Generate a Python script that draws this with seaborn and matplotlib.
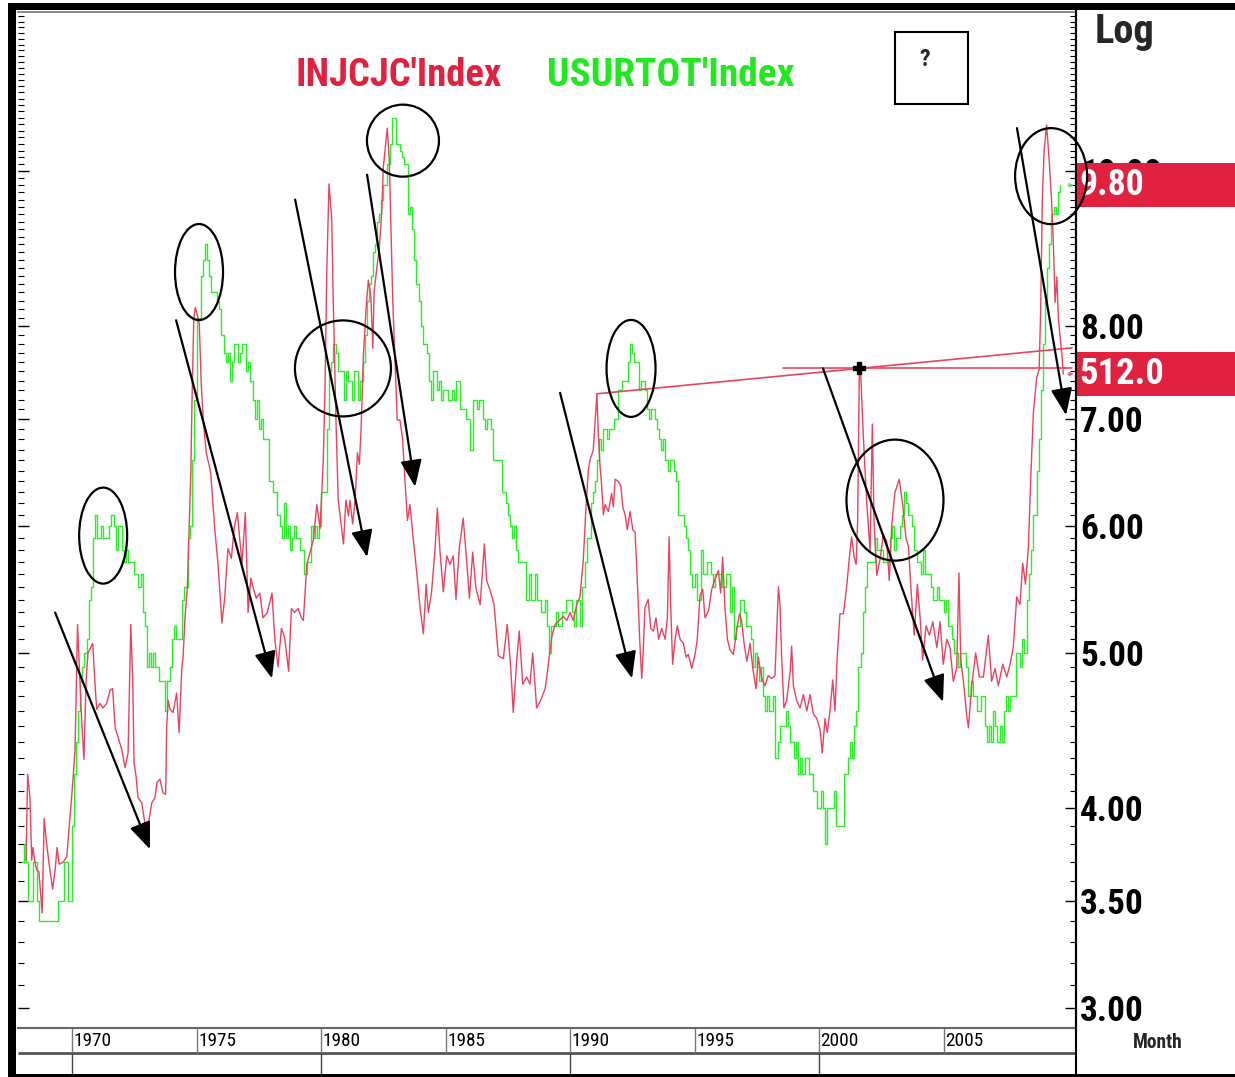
import numpy as np
import pandas as pd
import matplotlib
matplotlib.use("Agg")
import matplotlib.pyplot as plt
import seaborn as sns
from matplotlib import font_manager as fm
from matplotlib.patches import Ellipse, Rectangle
from matplotlib.lines import Line2D
from matplotlib.ticker import FixedLocator, NullFormatter

# ---------------- data ----------------
# USURTOT'Index, monthly from Jan 1968 (percent)
ur_first_year = 1968
unemployment_rate = [
    3.7, 3.8, 3.7, 3.5, 3.5, 3.7, 3.7, 3.5, 3.4, 3.4, 3.4, 3.4,        # 1968
    3.4, 3.4, 3.4, 3.4, 3.4, 3.5, 3.5, 3.5, 3.7, 3.7, 3.5, 3.5,        # 1969
    3.9, 4.2, 4.4, 4.6, 4.8, 4.9, 5.0, 5.1, 5.4, 5.5, 5.9, 6.1,        # 1970
    5.9, 5.9, 6.0, 5.9, 5.9, 5.9, 6.0, 6.1, 6.0, 5.8, 6.0, 6.0,        # 1971
    5.8, 5.7, 5.8, 5.7, 5.7, 5.7, 5.6, 5.6, 5.5, 5.6, 5.3, 5.2,        # 1972
    4.9, 5.0, 4.9, 5.0, 4.9, 4.9, 4.8, 4.8, 4.8, 4.6, 4.8, 4.9,        # 1973
    5.1, 5.2, 5.1, 5.1, 5.1, 5.4, 5.5, 5.5, 5.9, 6.0, 6.6, 7.2,        # 1974
    8.1, 8.1, 8.6, 8.8, 9.0, 8.8, 8.6, 8.4, 8.4, 8.4, 8.3, 8.2,        # 1975
    7.9, 7.7, 7.6, 7.7, 7.4, 7.6, 7.8, 7.8, 7.6, 7.7, 7.8, 7.8,        # 1976
    7.5, 7.6, 7.4, 7.2, 7.0, 7.2, 6.9, 7.0, 6.8, 6.8, 6.8, 6.4,        # 1977
    6.4, 6.3, 6.3, 6.1, 6.0, 5.9, 6.2, 5.9, 6.0, 5.8, 5.9, 6.0,        # 1978
    5.9, 5.9, 5.8, 5.8, 5.6, 5.7, 5.7, 6.0, 5.9, 6.0, 5.9, 6.0,        # 1979
    6.3, 6.3, 6.3, 6.9, 7.5, 7.6, 7.8, 7.7, 7.5, 7.5, 7.5, 7.2,        # 1980
    7.5, 7.4, 7.4, 7.2, 7.5, 7.5, 7.2, 7.4, 7.6, 7.9, 8.3, 8.5,        # 1981
    8.6, 8.9, 9.0, 9.3, 9.4, 9.6, 9.8, 9.8, 10.1, 10.4, 10.8, 10.8,    # 1982
    10.4, 10.4, 10.3, 10.2, 10.1, 10.1, 9.4, 9.5, 9.2, 8.8, 8.5, 8.3,  # 1983
    8.0, 7.8, 7.8, 7.7, 7.4, 7.2, 7.5, 7.5, 7.3, 7.4, 7.2, 7.3,        # 1984
    7.3, 7.2, 7.2, 7.3, 7.2, 7.4, 7.4, 7.1, 7.1, 7.1, 7.0, 7.0,        # 1985
    6.7, 7.2, 7.2, 7.1, 7.2, 7.2, 7.0, 6.9, 7.0, 7.0, 6.9, 6.6,        # 1986
    6.6, 6.6, 6.6, 6.3, 6.3, 6.2, 6.1, 6.0, 5.9, 6.0, 5.8, 5.7,        # 1987
    5.7, 5.7, 5.7, 5.4, 5.6, 5.4, 5.4, 5.6, 5.4, 5.4, 5.3, 5.3,        # 1988
    5.4, 5.2, 5.0, 5.2, 5.2, 5.3, 5.2, 5.2, 5.3, 5.3, 5.4, 5.4,        # 1989
    5.4, 5.3, 5.2, 5.4, 5.4, 5.2, 5.5, 5.7, 5.9, 5.9, 6.2, 6.3,        # 1990
    6.4, 6.6, 6.8, 6.7, 6.9, 6.9, 6.8, 6.9, 6.9, 7.0, 7.0, 7.3,        # 1991
    7.3, 7.4, 7.4, 7.4, 7.6, 7.8, 7.7, 7.6, 7.6, 7.3, 7.4, 7.4,        # 1992
    7.3, 7.1, 7.0, 7.1, 7.1, 7.0, 6.9, 6.8, 6.7, 6.8, 6.6, 6.5,        # 1993
    6.6, 6.6, 6.5, 6.4, 6.1, 6.1, 6.1, 6.0, 5.9, 5.8, 5.6, 5.5,        # 1994
    5.6, 5.4, 5.4, 5.8, 5.6, 5.6, 5.7, 5.7, 5.6, 5.5, 5.6, 5.6,        # 1995
    5.6, 5.5, 5.5, 5.6, 5.6, 5.3, 5.5, 5.1, 5.2, 5.2, 5.4, 5.4,        # 1996
    5.3, 5.2, 5.2, 5.1, 4.9, 5.0, 4.9, 4.8, 4.9, 4.7, 4.6, 4.7,        # 1997
    4.6, 4.6, 4.7, 4.3, 4.4, 4.5, 4.5, 4.5, 4.6, 4.5, 4.4, 4.4,        # 1998
    4.3, 4.4, 4.2, 4.3, 4.2, 4.3, 4.3, 4.2, 4.2, 4.1, 4.1, 4.0,        # 1999
    4.0, 4.1, 4.0, 3.8, 4.0, 4.0, 4.0, 4.1, 3.9, 3.9, 3.9, 3.9,        # 2000
    4.2, 4.2, 4.3, 4.4, 4.3, 4.5, 4.6, 4.9, 5.0, 5.3, 5.5, 5.7,        # 2001
    5.7, 5.7, 5.7, 5.9, 5.8, 5.8, 5.8, 5.7, 5.7, 5.7, 5.9, 6.0,        # 2002
    5.8, 5.9, 5.9, 6.0, 6.1, 6.3, 6.2, 6.1, 6.1, 6.0, 5.8, 5.7,        # 2003
    5.7, 5.6, 5.8, 5.6, 5.6, 5.6, 5.5, 5.4, 5.4, 5.5, 5.4, 5.4,        # 2004
    5.3, 5.4, 5.2, 5.2, 5.1, 5.0, 5.0, 4.9, 5.0, 5.0, 5.0, 4.9,        # 2005
    4.7, 4.8, 4.7, 4.7, 4.6, 4.6, 4.7, 4.7, 4.5, 4.4, 4.5, 4.4,        # 2006
    4.6, 4.5, 4.4, 4.5, 4.4, 4.6, 4.7, 4.6, 4.7, 4.7, 4.7, 5.0,        # 2007
    5.0, 4.9, 5.1, 5.0, 5.4, 5.6, 5.8, 6.1, 6.1, 6.5, 6.8, 7.3,        # 2008
    7.8, 8.3, 8.7, 9.0, 9.4, 9.5, 9.4, 9.7, 9.8,                       # 2009
]

claims_years = [
    1968.15, 1968.22, 1968.31, 1968.38, 1968.43, 1968.51, 1968.58, 1968.67, 1968.80, 1968.88,
    1968.98, 1969.07, 1969.22, 1969.32, 1969.40, 1969.48, 1969.64, 1969.79, 1969.92, 1970.03,
    1970.12, 1970.17, 1970.22, 1970.30, 1970.39, 1970.48, 1970.56, 1970.64, 1970.75, 1970.83,
    1970.92, 1970.99, 1971.12, 1971.24, 1971.39, 1971.53, 1971.63, 1971.73, 1971.85, 1972.00,
    1972.13, 1972.25, 1972.36, 1972.44, 1972.49, 1972.57, 1972.65, 1972.80, 1972.93, 1973.01,
    1973.20, 1973.33, 1973.41, 1973.53, 1973.65, 1973.76, 1973.80, 1973.86, 1973.94, 1974.06,
    1974.20, 1974.30, 1974.41, 1974.46, 1974.54, 1974.63, 1974.69, 1974.77, 1974.82, 1974.89,
    1974.95, 1975.03, 1975.11, 1975.19, 1975.27, 1975.39, 1975.57, 1975.73, 1975.86, 1976.02,
    1976.13, 1976.26, 1976.40, 1976.51, 1976.64, 1976.73, 1976.83, 1976.96, 1977.07, 1977.18,
    1977.28, 1977.40, 1977.54, 1977.67, 1977.84, 1978.03, 1978.14, 1978.27, 1978.41, 1978.54,
    1978.70, 1978.81, 1978.94, 1979.08, 1979.21, 1979.29, 1979.43, 1979.56, 1979.69, 1979.83,
    1979.96, 1980.09, 1980.16, 1980.23, 1980.32, 1980.43, 1980.49, 1980.60, 1980.69, 1980.79,
    1980.90, 1981.00, 1981.10, 1981.16, 1981.27, 1981.37, 1981.46, 1981.54, 1981.61, 1981.70,
    1981.81, 1981.90, 1982.00, 1982.08, 1982.13, 1982.24, 1982.34, 1982.44, 1982.50, 1982.61,
    1982.66, 1982.74, 1982.80, 1982.88, 1982.97, 1983.06, 1983.17, 1983.28, 1983.37, 1983.47,
    1983.57, 1983.71, 1983.84, 1983.98, 1984.11, 1984.22, 1984.31, 1984.44, 1984.58, 1984.67,
    1984.78, 1984.91, 1985.05, 1985.18, 1985.31, 1985.42, 1985.55, 1985.71, 1985.82, 1985.96,
    1986.09, 1986.22, 1986.39, 1986.56, 1986.65, 1986.81, 1986.95, 1987.12, 1987.32, 1987.48,
    1987.62, 1987.72, 1987.86, 1987.96, 1988.10, 1988.26, 1988.39, 1988.50, 1988.66, 1988.82,
    1989.00, 1989.13, 1989.27, 1989.40, 1989.57, 1989.73, 1989.87, 1990.00, 1990.13, 1990.27,
    1990.40, 1990.53, 1990.64, 1990.73, 1990.80, 1990.93, 1991.08, 1991.14, 1991.20, 1991.27,
    1991.34, 1991.41, 1991.54, 1991.67, 1991.74, 1991.81, 1991.94, 1992.04, 1992.12, 1992.21,
    1992.30, 1992.41, 1992.52, 1992.61, 1992.68, 1992.74, 1992.81, 1992.88, 1992.94, 1993.01,
    1993.14, 1993.24, 1993.35, 1993.45, 1993.56, 1993.68, 1993.82, 1993.91, 1993.98, 1994.04,
    1994.12, 1994.22, 1994.31, 1994.42, 1994.55, 1994.66, 1994.75, 1994.89, 1995.02, 1995.11,
    1995.22, 1995.33, 1995.42, 1995.56, 1995.69, 1995.82, 1995.96, 1996.05, 1996.13, 1996.22,
    1996.32, 1996.43, 1996.56, 1996.69, 1996.80, 1996.89, 1996.99, 1997.10, 1997.23, 1997.34,
    1997.47, 1997.56, 1997.70, 1997.83, 1997.96, 1998.10, 1998.23, 1998.37, 1998.43, 1998.50,
    1998.59, 1998.70, 1998.84, 1998.90, 1998.97, 1999.10, 1999.24, 1999.37, 1999.51, 1999.64,
    1999.77, 1999.91, 2000.04, 2000.13, 2000.24, 2000.33, 2000.44, 2000.55, 2000.64, 2000.73,
    2000.84, 2000.98, 2001.11, 2001.22, 2001.31, 2001.41, 2001.49, 2001.55, 2001.62, 2001.67,
    2001.78, 2001.91, 2002.05, 2002.14, 2002.21, 2002.32, 2002.45, 2002.58, 2002.72, 2002.82,
    2002.92, 2003.05, 2003.22, 2003.36, 2003.49, 2003.59, 2003.68, 2003.82, 2003.95, 2004.06,
    2004.16, 2004.30, 2004.43, 2004.57, 2004.73, 2004.86, 2004.99, 2005.13, 2005.26, 2005.39,
    2005.53, 2005.62, 2005.69, 2005.80, 2005.93, 2006.00, 2006.13, 2006.29, 2006.44, 2006.60,
    2006.80, 2006.93, 2007.07, 2007.20, 2007.38, 2007.54, 2007.67, 2007.80, 2007.94, 2008.07,
    2008.18, 2008.29, 2008.41, 2008.50, 2008.61, 2008.74, 2008.84, 2008.90, 2008.97, 2009.04,
    2009.14, 2009.25, 2009.34, 2009.41, 2009.48, 2009.55, 2009.61, 2009.68, 2009.75, 2009.81,
]
claims_values = [
    3.71, 4.20, 4.06, 3.71, 3.78, 3.70, 3.66, 3.65, 3.44, 3.94,
    3.80, 3.70, 3.56, 3.66, 3.78, 3.69, 3.70, 3.73, 3.95, 4.15,
    4.35, 4.74, 5.21, 4.88, 4.52, 4.29, 4.79, 5.00, 5.04, 5.07,
    4.79, 4.61, 4.65, 4.62, 4.65, 4.74, 4.75, 4.49, 4.43, 4.35,
    4.24, 4.33, 5.21, 4.79, 4.27, 4.19, 4.06, 4.03, 3.91, 3.86,
    4.03, 4.06, 4.15, 4.17, 4.09, 4.08, 4.49, 4.67, 4.61, 4.59,
    4.72, 4.46, 4.90, 4.97, 5.27, 5.49, 5.90, 6.48, 7.21, 8.09,
    8.22, 8.14, 8.03, 7.36, 7.00, 6.67, 6.48, 5.98, 5.69, 5.22,
    5.41, 5.81, 5.73, 5.98, 6.12, 5.90, 5.69, 6.12, 5.30, 5.57,
    5.49, 5.41, 5.45, 5.26, 5.30, 5.45, 5.11, 4.90, 5.18, 5.11,
    4.87, 5.33, 5.30, 5.33, 5.26, 5.24, 5.68, 5.78, 5.88, 6.19,
    5.98, 6.60, 7.32, 8.65, 9.82, 9.33, 8.31, 6.99, 6.23, 6.05,
    5.85, 6.23, 6.09, 6.23, 6.02, 6.23, 6.67, 6.56, 6.91, 7.66,
    8.21, 8.55, 8.36, 7.75, 8.40, 8.70, 8.95, 9.44, 10.05, 10.46,
    10.64, 10.16, 9.33, 8.31, 7.62, 6.99, 6.99, 6.79, 6.41, 6.05,
    6.19, 5.88, 5.62, 5.33, 5.14, 5.52, 5.30, 5.46, 5.81, 6.16,
    5.78, 5.46, 5.75, 5.68, 5.75, 5.40, 5.81, 6.07, 5.78, 5.41,
    5.78, 5.49, 5.36, 5.85, 5.55, 5.46, 5.36, 4.98, 4.96, 5.21,
    4.89, 4.59, 4.95, 5.16, 4.78, 4.83, 4.78, 5.00, 4.62, 4.67,
    4.75, 4.92, 5.12, 5.21, 5.24, 5.27, 5.24, 5.30, 5.24, 5.36,
    5.42, 5.71, 6.16, 6.49, 6.60, 6.69, 7.26, 6.83, 6.56, 6.36,
    6.10, 6.19, 6.13, 6.29, 6.17, 6.42, 6.40, 6.36, 6.17, 6.10,
    5.97, 6.13, 5.97, 5.95, 5.65, 5.36, 5.05, 4.82, 5.02, 5.34,
    5.40, 5.18, 5.16, 5.26, 5.10, 5.18, 5.10, 5.26, 5.91, 5.36,
    4.92, 5.10, 5.20, 5.10, 5.07, 4.97, 4.99, 4.89, 4.99, 5.10,
    5.43, 5.48, 5.26, 5.31, 5.48, 5.56, 5.63, 5.45, 5.74, 5.34,
    5.10, 5.02, 4.99, 5.16, 5.29, 5.24, 5.07, 4.94, 5.07, 4.89,
    4.75, 4.97, 4.82, 4.77, 4.84, 4.82, 4.84, 5.50, 5.36, 4.97,
    4.62, 4.67, 4.87, 5.05, 4.77, 4.67, 4.62, 4.71, 4.60, 4.71,
    4.58, 4.55, 4.48, 4.33, 4.55, 4.46, 4.60, 4.81, 4.60, 4.97,
    5.29, 5.29, 5.50, 5.74, 5.91, 5.74, 5.68, 6.04, 7.53, 7.50,
    6.82, 6.23, 5.79, 6.95, 6.04, 5.59, 5.72, 5.93, 5.87, 5.55,
    6.01, 6.30, 6.42, 6.19, 5.90, 5.83, 5.52, 5.13, 5.52, 5.26,
    4.95, 5.20, 5.13, 5.23, 5.04, 5.23, 4.92, 5.10, 5.04, 4.80,
    4.89, 5.61, 4.95, 4.80, 4.57, 4.49, 4.77, 5.00, 4.83, 4.83,
    5.13, 4.80, 4.89, 4.77, 4.92, 4.83, 4.92, 5.04, 5.42, 5.36,
    5.69, 5.52, 5.83, 6.42, 7.07, 7.43, 7.52, 8.18, 9.64, 10.30,
    10.69, 10.12, 9.58, 9.02, 8.28, 8.59, 8.09, 7.89, 7.69, 7.47,
]
claims_last_k = 512.0   # last INJCJC print (thousands)

y_ticks = [3.0, 3.5, 4.0, 5.0, 6.0, 7.0, 8.0, 10.0]
year_ticks = [1970, 1975, 1980, 1985, 1990, 1995, 2000, 2005]
decade_ticks = [1970, 1980, 1990, 2000]

# hand-drawn markup: arrows (start, end) and circles (year, value, width px, height px)
arrows = [
    ((1969.32, 5.30), (1973.13, 3.77)),
    ((1974.18, 8.07), (1978.03, 4.82)),
    ((1978.96, 9.60), (1981.85, 5.74)),
    ((1981.85, 9.95), (1983.78, 6.35)),
    ((1989.60, 7.27), (1992.49, 4.82)),
    ((2000.16, 7.53), (2004.98, 4.66)),
    ((2007.95, 10.64), (2009.92, 7.04)),
]
circles = [
    (1971.25, 5.92, 48, 96),
    (1975.10, 8.65, 48, 96),
    (1980.88, 7.53, 96, 96),
    (1983.29, 10.45, 72, 72),
    (1992.45, 7.53, 49, 97),
    (2003.05, 6.23, 97, 121),
    (2009.32, 9.93, 72, 96),
]

# ---------------- style ----------------
RED = "#E0213F"
LINE_RED = "#E64461"
GREEN = "#2CEC2C"


def has_font(name):
    try:
        fm.findfont(fm.FontProperties(family=name), fallback_to_default=False)
        return True
    except ValueError:
        return False


narrow = next((f for f in ["Liberation Sans Narrow", "Roboto Condensed",
                           "Open Sans Condensed", "Noto Sans Condensed"] if has_font(f)),
              "Liberation Sans")

W, H = 1235, 1077
sns.set_theme(style="white")
plt.rcParams["font.family"] = [narrow, "Liberation Sans", "DejaVu Sans"]

fig = plt.figure(figsize=(W / 100, H / 100), dpi=100)
fig.patch.set_facecolor("white")


def box(x0, y0, x1, y1):
    # pixel box, origin top-left -> figure fraction [l, b, w, h]
    return [x0 / W, 1 - y1 / H, (x1 - x0) / W, (y1 - y0) / H]


def px_rect(x0, y0, x1, y1, **kw):
    l, b, w, h = box(x0, y0, x1, y1)
    fig.add_artist(Rectangle((l, b), w, h, transform=fig.transFigure, **kw))


ax = fig.add_axes(box(18, 12, 1076, 1028))

ur = pd.DataFrame({"year": ur_first_year + np.arange(len(unemployment_rate)) / 12,
                   "rate": unemployment_rate})
claims = pd.DataFrame({"year": claims_years, "value": claims_values})

sns.lineplot(data=ur, x="year", y="rate", ax=ax, color=GREEN, linewidth=1.0,
             drawstyle="steps-post", estimator=None, zorder=3)
sns.lineplot(data=claims, x="year", y="value", ax=ax, color=LINE_RED, linewidth=1.0,
             estimator=None, zorder=4)

ax.set_yscale("log")
ax.set_xlim(1967.83, 2010.32)
ax.set_ylim(2.915, 12.575)
ax.set_xlabel("")
ax.set_ylabel("")
ax.set_xticks([])
ax.set_yticks(y_ticks)
ax.set_yticklabels([f"{v:.2f}" for v in y_ticks])
ax.yaxis.set_minor_locator(FixedLocator(np.arange(30, 126) / 10))
ax.yaxis.set_minor_formatter(NullFormatter())
ax.tick_params(axis="y", which="both", left=True, right=True, labelleft=False,
               labelright=True, direction="in", colors="black")
ax.tick_params(axis="y", which="major", length=8, width=1.0, pad=3, labelsize=26)
ax.tick_params(axis="y", which="minor", length=4, width=0.8)
for lab in ax.get_yticklabels():
    lab.set_fontweight("bold")
ax.spines["left"].set_visible(False)
ax.spines["top"].set_color("#777777")
ax.spines["bottom"].set_color("#666666")
ax.spines["bottom"].set_linewidth(1.5)
ax.spines["right"].set_color("black")
ax.spines["right"].set_linewidth(1.5)

# trend lines off the 1991 and 2001 claims peaks
cy = np.array(claims_years)
cv = np.array(claims_values)
i91 = np.argmax(np.where((cy > 1990.5) & (cy < 1991.5), cv, 0))
i01 = np.argmax(np.where((cy > 2001.0) & (cy < 2002.0), cv, 0))
x_end = 2010.16
slope = (np.log(cv[i01]) - np.log(cv[i91])) / (cy[i01] - cy[i91])
ax.plot([cy[i91], x_end], [cv[i91], cv[i91] * np.exp(slope * (x_end - cy[i91]))],
        color=LINE_RED, lw=1.2, zorder=5)
ax.plot([1998.55, x_end], [cv[i01], cv[i01]], color=LINE_RED, lw=1.2, zorder=5)
ax.plot(cy[i01], cv[i01], marker="P", ms=8, color="black", zorder=6)

# small end-of-series arrows
for val, col in [(unemployment_rate[-1], GREEN), (claims_values[-1], LINE_RED)]:
    ax.annotate("", xy=(2010.22, val), xytext=(2009.98, val),
                arrowprops=dict(arrowstyle="->", color=col, lw=0.8, mutation_scale=6,
                                shrinkA=0, shrinkB=0))

# arrows
for start, end in arrows:
    ax.annotate("", xy=end, xytext=start,
                arrowprops=dict(arrowstyle="-|>,head_length=0.55,head_width=0.22",
                                mutation_scale=30, color="black", lw=1.6,
                                shrinkA=0, shrinkB=0), zorder=7)

# ---------------- bottom date band ----------------
band = fig.add_axes(box(18, 1028, 1076, 1077))
band.set_xlim(ax.get_xlim())
band.set_ylim(0, 49)
band.axis("off")
band.hlines(24, *ax.get_xlim(), color="#555555", lw=2)
band.vlines(year_ticks, 24, 49, color="#777777", lw=1)
band.vlines(decade_ticks, 0, 24, color="#444444", lw=1)
year_texts = [band.text(t + 0.06, 36, str(t), ha="left", va="center", fontsize=15,
                        color="black") for t in year_ticks]

# ---------------- frame, labels, boxes ----------------
px_rect(8, 3, 1235, 10, facecolor="black", edgecolor="none", zorder=9)
px_rect(8, 3, 16, 1077, facecolor="black", edgecolor="none", zorder=9)
px_rect(8, 1074, 1235, 1077, facecolor="black", edgecolor="none", zorder=9)
fig.add_artist(Line2D([1076 / W, 1076 / W], [1 - 10 / H, 0], color="black", lw=1.5,
                      transform=fig.transFigure, zorder=9))

t_inj = fig.text(296 / W, 1 - 76 / H, "INJCJC'Index", color=RED, fontsize=28,
                 fontweight="bold", va="center", ha="left")
t_usu = fig.text(547 / W, 1 - 76 / H, "USURTOT'Index", color="#22E822", fontsize=28,
                 fontweight="bold", va="center", ha="left")
px_rect(895, 32, 968, 104, facecolor="none", edgecolor="black", lw=1.5, zorder=9)
fig.text(925 / W, 1 - 60 / H, "?", fontsize=17, fontweight="bold", ha="center", va="center")
t_log = fig.text(1095 / W, 1 - 32 / H, "Log", fontsize=30, fontweight="bold", ha="left",
                 va="center")
t_month = fig.text(1158 / W, 1 - 1042 / H, "Month", fontsize=14, fontweight="bold",
                   ha="center", va="center")


def fig_y(val):
    return ax.transData.transform((2000, val))[1] / H


box_texts = []
for val, label in [(unemployment_rate[-1], f"{unemployment_rate[-1]:.2f}"),
                   (claims_values[-1], f"{claims_last_k:.1f}")]:
    yc = fig_y(val)
    fig.add_artist(Rectangle((1077 / W, yc - 22 / H), (W - 1077) / W, 44 / H,
                             transform=fig.transFigure, facecolor=RED, edgecolor="none",
                             zorder=10))
    box_texts.append(fig.text(1079 / W, yc, label, color="white", fontsize=26,
                              fontweight="bold", va="center", ha="left", zorder=11))

# circles drawn last so they sit over the value boxes, as in the screenshot
for yr, val, w, h in circles:
    px, py = ax.transData.transform((yr, val))
    fig.add_artist(Ellipse((px / W, py / H), w / W, h / H, transform=fig.transFigure,
                           fill=False, ec="black", lw=1.6, zorder=12))

# size the texts to the widths they take in the screenshot
fig.canvas.draw()
renderer = fig.canvas.get_renderer()


def fit(text, width_px):
    w = text.get_window_extent(renderer).width
    text.set_fontsize(text.get_fontsize() * width_px / w)


fit(t_inj, 206)
fit(t_usu, 248)
fit(t_log, 60)
fit(t_month, 50)
for t in year_texts:
    fit(t, 38)
for t, w in zip(box_texts, [65, 85]):
    fit(t, w)
lab8 = [lab for lab in ax.get_yticklabels() if lab.get_text() == "8.00"][0]
scale = 64 / lab8.get_window_extent(renderer).width
ax.tick_params(axis="y", which="major", labelsize=26 * scale)

fig.savefig("out.png", dpi=100, facecolor="white")
